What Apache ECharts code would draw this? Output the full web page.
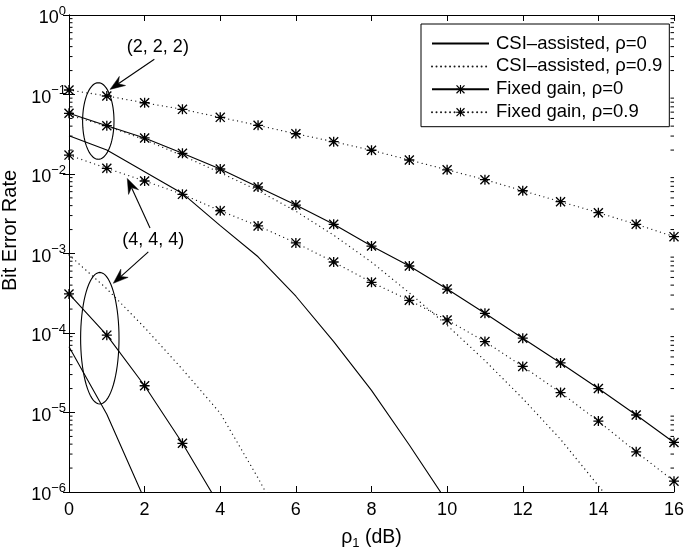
<!DOCTYPE html>
<html>
<head>
<meta charset="utf-8">
<script src="https://cdn.jsdelivr.net/npm/echarts@6/dist/echarts.min.js"></script>
<style>
html,body{margin:0;padding:0;background:#fff;}
#chart{width:685px;height:553px;}
</style>
</head>
<body>
<div id="chart"></div>
<script>
// ---------------- data ----------------
var xTicks = [0, 2, 4, 6, 8, 10, 12, 14, 16];
var snr = [0, 1, 2, 3, 4, 5, 6, 7, 8, 9, 10, 11, 12, 13, 14, 15, 16];

// (2,2,2)
var fixed09_222 = [0.114, 0.0958, 0.0788, 0.065, 0.0516, 0.041, 0.0321, 0.0255, 0.0199, 0.015, 0.0113, 0.00848, 0.00616, 0.00448, 0.00326, 0.00233, 0.00163];
var fixed0_222 = [0.058, 0.0405, 0.0284, 0.0182, 0.01156, 0.00686, 0.00407, 0.00233, 0.00124, 0.000696, 0.000357, 0.000177, 8.6e-5, 4.2e-5, 2.0e-5, 9.3e-6, 4.2e-6];
var csi0_222 = [0.0303, 0.02, 0.0107, 0.0057, 0.00224, 9.1e-4, 2.9e-4, 7.8e-5, 1.9e-5, 3.9e-6, 7.5e-7];
var csi09_222 = [0.055, 0.04, 0.027, 0.017, 0.0104, 0.0062, 0.0034, 0.0017, 7.8e-4, 3.2e-4, 1.25e-4, 4.5e-5, 1.5e-5, 4.6e-6, 1.2e-6, 3e-7];
// (4,4,4)
var fixed09_444 = [0.0173, 0.0118, 0.00817, 0.00555, 0.00345, 0.00222, 0.00136, 7.82e-4, 4.34e-4, 2.58e-4, 1.46e-4, 7.8e-5, 3.8e-5, 1.78e-5, 7.8e-6, 3.2e-6, 1.37e-6];
var fixed0_444 = [3.1e-4, 9.4e-5, 2.17e-5, 4.1e-6, 6.5e-7];
var csi0_444 = [6.7e-5, 9.5e-6, 8e-7];
var csi09_444 = [9.6e-4, 3.6e-4, 1.17e-4, 3.5e-5, 9.8e-6, 1.5e-6, 2e-7];

var names = ['CSI\u2013assisted, \u03c1=0', 'CSI\u2013assisted, \u03c1=0.9', 'Fixed gain, \u03c1=0', 'Fixed gain, \u03c1=0.9'];
var minorMantissa = [2, 3, 4, 5, 6, 7, 8, 9];
var decades = [-6, -5, -4, -3, -2, -1];

// ---------------- helpers ----------------
function pairs(ys) { return ys.map(function (v, i) { return [snr[i], v]; }); }
var FONT = '"Liberation Sans", Arial, Helvetica, sans-serif';
var STAR = 'path://M8.7 0L11.3 0L11.3 20L8.7 20Z M0 8.7L20 8.7L20 11.3L0 11.3Z M0 1.9L1.9 0L20 18.1L18.1 20Z M18.1 0L20 1.9L1.9 20L0 18.1Z';
var solid = {color: '#000', width: 1.1, type: 'solid'};
var dotted = {color: '#1a1a1a', width: 1.3, type: [0.01, 4.5], cap: 'round'};

function mk(nameIdx, ys, withStar, style) {
  return {
    type: 'line', name: names[nameIdx], data: pairs(ys),
    showSymbol: withStar, symbol: withStar ? STAR : 'circle', symbolSize: 10,
    itemStyle: {color: withStar ? '#000' : 'rgba(0,0,0,0)'},
    lineStyle: style, clip: true, animation: false, z: 3,
    emphasis: {disabled: true}
  };
}

var minorVals = [];
decades.forEach(function (d) { minorMantissa.forEach(function (m) { minorVals.push(m * Math.pow(10, d)); }); });

function yLabel(v) {
  var e = Math.round(Math.log(v) / Math.LN10);
  var s = String(e).replace('-', '\u2212');
  return '{b|10}{s|' + s + '}';
}

var chart = echarts.init(document.getElementById('chart'), null, {renderer: 'canvas'});
var axisLine = {show: true, lineStyle: {color: '#000', width: 1}};
var option = {
  backgroundColor: '#fff',
  animation: false,
  textStyle: {fontFamily: FONT},
  grid: {left: 69, right: 11, top: 15, bottom: 61, containLabel: false, outerBoundsMode: 'none'},
  legend: {
    orient: 'vertical', left: 421, top: 24,
    padding: [10, 7, 5, 10], itemGap: 3.9, itemWidth: 57, itemHeight: 11,
    backgroundColor: '#fff', borderColor: '#000', borderWidth: 1, borderRadius: 0,
    textStyle: {fontSize: 18.5, color: '#000', fontFamily: FONT, padding: [0, 0, 0, 2]},
    data: names, selectedMode: false
  },
  xAxis: [{
    type: 'value', min: 0, max: 16, interval: 2, position: 'bottom',
    name: '\u03c1{sub|1} (dB)', nameLocation: 'middle', nameGap: 34,
    nameTextStyle: {fontSize: 19.5, color: '#000', fontFamily: FONT,
      rich: {sub: {fontSize: 13, padding: [11, 0, 0, 0], fontFamily: FONT}}},
    axisLine: axisLine, axisTick: {inside: true, length: 6, lineStyle: {color: '#000'}},
    axisLabel: {fontSize: 18, color: '#000', margin: 9, fontFamily: FONT},
    splitLine: {show: false}
  }, {
    type: 'value', min: 0, max: 16, interval: 2, position: 'top',
    axisLine: axisLine, axisTick: {inside: true, length: 6, lineStyle: {color: '#000'}},
    axisLabel: {show: false}, splitLine: {show: false}
  }],
  yAxis: [{
    type: 'log', logBase: 10, min: 1e-6, max: 1, position: 'left',
    name: 'Bit Error Rate', nameLocation: 'middle', nameGap: 40,
    nameTextStyle: {fontSize: 20, color: '#000', fontFamily: FONT, padding: [0, 0, 0, 46]},
    axisLine: axisLine, axisTick: {inside: true, length: 6, lineStyle: {color: '#000'}},
    axisLabel: {
      formatter: yLabel, margin: 3, color: '#000',
      rich: {
        b: {fontSize: 18, fontFamily: FONT, color: '#000', padding: [7, 0, 0, 0], lineHeight: 21},
        s: {fontSize: 13, fontFamily: FONT, color: '#000', verticalAlign: 'top', lineHeight: 14}
      }
    },
    splitLine: {show: false}
  }, {
    type: 'log', logBase: 10, min: 1e-6, max: 1, position: 'right',
    axisLine: axisLine, axisTick: {inside: true, length: 6, lineStyle: {color: '#000'}},
    axisLabel: {show: false}, splitLine: {show: false}
  }],
  series: [
    mk(3, fixed09_222, true, dotted),
    mk(2, fixed0_222, true, solid),
    mk(0, csi0_222, false, solid),
    mk(1, csi09_222, false, dotted),
    mk(3, fixed09_444, true, dotted),
    mk(2, fixed0_444, true, solid),
    mk(0, csi0_444, false, solid),
    mk(1, csi09_444, false, dotted),
    {
      type: 'custom', name: 'minor', silent: true, z: 2,
      data: minorVals.map(function (v) { return [0, v]; }),
      renderItem: function (params, api) {
        var v = api.value(1);
        var a = api.coord([0, v]);
        var b = api.coord([16, v]);
        return {type: 'group', children: [
          {type: 'line', shape: {x1: a[0], y1: a[1], x2: a[0] + 3.5, y2: a[1]}, style: {stroke: '#000', lineWidth: 1}},
          {type: 'line', shape: {x1: b[0] - 3.5, y1: b[1], x2: b[0], y2: b[1]}, style: {stroke: '#000', lineWidth: 1}}
        ]};
      }
    }
  ]
};
chart.setOption(option);

// ---------------- annotations (anchored in data coordinates) ----------------
var ellipses = [
  {c: [0.775, 0.0464], rx: 15.7, ry: 38.3},
  {c: [0.815, 8.6e-5], rx: 19.2, ry: 65.8}
];
var arrows = [
  {from: [2.257, 0.277], to: [1.085, 0.116]},
  {from: [2.098, 1.05e-3], to: [1.172, 4.22e-4]},
  {from: [2.143, 2.09e-3], to: [1.542, 8.78e-3]}
];
var texts = [
  {at: [2.35, 0.396], t: '(2, 2, 2)'},
  {at: [2.23, 1.48e-3], t: '(4, 4, 4)'}
];
function px(p) { return chart.convertToPixel({xAxisIndex: 0, yAxisIndex: 0}, p); }
var g = [];
ellipses.forEach(function (e) {
  var c = px(e.c), pts = [];
  for (var i = 0; i <= 72; i++) {
    var t = i / 72 * Math.PI * 2;
    pts.push([c[0] + e.rx * Math.cos(t), c[1] + e.ry * Math.sin(t)]);
  }
  g.push({type: 'polyline', shape: {points: pts}, style: {stroke: '#000', lineWidth: 1.1, fill: null}, z: 10});
});
arrows.forEach(function (a) {
  var p0 = px(a.from), p1 = px(a.to);
  var dx = p1[0] - p0[0], dy = p1[1] - p0[1];
  var L = Math.sqrt(dx * dx + dy * dy), ux = dx / L, uy = dy / L;
  var nx = -uy, ny = ux;
  var hl = 15, hw = 5.5, notch = 10;
  var base = [p1[0] - ux * hl, p1[1] - uy * hl];
  var nb = [p1[0] - ux * notch, p1[1] - uy * notch];
  g.push({type: 'line', shape: {x1: p0[0], y1: p0[1], x2: nb[0], y2: nb[1]}, style: {stroke: '#000', lineWidth: 1.1}, z: 10});
  g.push({type: 'polygon', shape: {points: [p1, [base[0] + nx * hw, base[1] + ny * hw], nb, [base[0] - nx * hw, base[1] - ny * hw]]},
    style: {fill: '#000', stroke: '#000', lineWidth: 0.5}, z: 10});
});
texts.forEach(function (t) {
  var p = px(t.at);
  g.push({type: 'text', x: p[0], y: p[1], style: {text: t.t, fontSize: 18, fontFamily: FONT, fill: '#000', align: 'center', verticalAlign: 'middle'}, z: 10});
});
chart.setOption({graphic: g});
</script>
</body>
</html>
